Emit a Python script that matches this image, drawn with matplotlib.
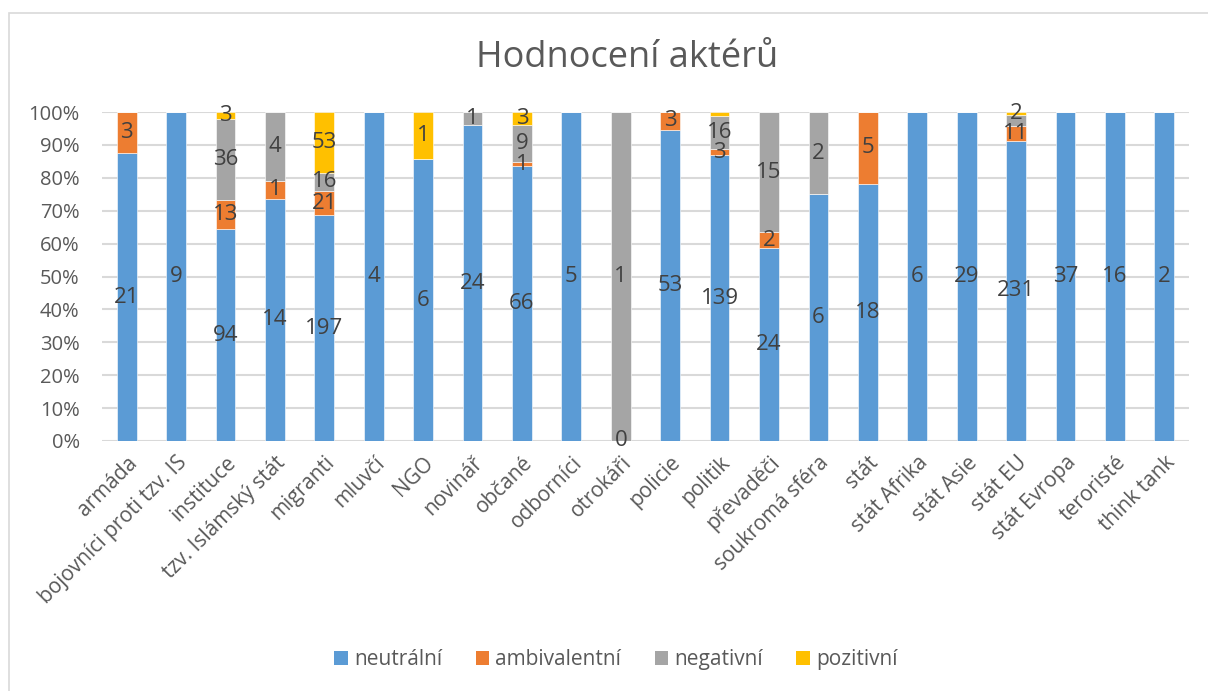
import numpy as np
import matplotlib
matplotlib.use("Agg")
import matplotlib.pyplot as plt
from matplotlib.patches import Rectangle, Patch
from matplotlib.ticker import PercentFormatter

plt.rcParams["font.family"] = ["Open Sans", "DejaVu Sans"]

# ----- data -----
categories = [
    "armáda", "bojovníci proti tzv. IS", "instituce", "tzv. Islámský stát",
    "migranti", "mluvčí", "NGO", "novinář", "občané", "odborníci", "otrokáři",
    "policie", "politik", "převaděči", "soukromá sféra", "stát", "stát Afrika",
    "stát Asie", "stát EU", "stát Evropa", "teroristé", "think tank",
]
nan = np.nan
neutralni = [21, 9, 94, 14, 197, 4, 6, 24, 66, 5, 0, 53, 139, 24, 6, 18, 6, 29, 231, 37, 16, 2]
ambivalentni = [3, nan, 13, 1, 21, nan, nan, nan, 1, nan, nan, 3, 3, 2, nan, 5, nan, nan, 11, nan, nan, nan]
negativni = [nan, nan, 36, 4, 16, nan, nan, 1, 9, nan, 1, nan, 16, 15, 2, nan, nan, nan, 9, nan, nan, nan]
pozitivni = [nan, nan, 3, nan, 53, nan, 1, nan, 3, nan, nan, nan, 2, nan, nan, nan, nan, nan, 2, nan, nan, nan]

series_names = ["neutrální", "ambivalentní", "negativní", "pozitivní"]
series = [neutralni, ambivalentni, negativni, pozitivni]
colors = ["#5B9BD5", "#ED7D31", "#A5A5A5", "#FFC000"]

# labels that Excel hid because they overlap (series index, category)
hidden_labels = {(3, "politik"), (2, "stát EU")}

# ----- figure -----
fig = plt.figure(figsize=(12.08, 6.91), dpi=100)
ax = fig.add_axes([0.0844, 0.3618, 0.8999, 0.4761])

# chart border (Excel chart area)
fig.patches.append(Rectangle((0.0075, -0.1), 1.1, 1.081, transform=fig.transFigure,
                             fill=False, edgecolor="#D9D9D9", linewidth=1.2, zorder=0))

vals = np.nan_to_num(np.array(series, dtype=float))
totals = vals.sum(axis=0)
pct = vals / totals * 100
x = np.arange(len(categories))

bottom = np.zeros(len(categories))
for si, (name, col) in enumerate(zip(series_names, colors)):
    ax.bar(x, pct[si], 0.4, bottom=bottom, color=col, edgecolor="white",
           linewidth=0.4, zorder=3, label=name)
    for ci, cat in enumerate(categories):
        raw = series[si][ci]
        if np.isnan(raw) or (si, cat) in hidden_labels:
            continue
        yc = bottom[ci] + pct[si][ci] / 2
        ax.text(ci, yc, f"{int(raw)}", ha="center", va="center",
                fontsize=16, color="#404040", zorder=5)
    bottom += pct[si]

ax.set_xlim(-0.5, len(categories) - 0.5)
ax.set_ylim(0, 100)
ax.set_yticks(np.arange(0, 101, 10))
ax.yaxis.set_major_formatter(PercentFormatter(decimals=0))
ax.grid(axis="y", color="#D9D9D9", linewidth=1.5, zorder=0)
ax.set_axisbelow(True)
for s in ["top", "right", "left", "bottom"]:
    ax.spines[s].set_visible(False)
ax.tick_params(axis="y", length=0, pad=16, labelsize=14.5, labelcolor="#595959")
ax.tick_params(axis="x", length=0, pad=8, labelsize=15, labelcolor="#595959")
ax.set_xticks(x)
ax.set_xticklabels(categories, rotation=45, ha="right", rotation_mode="anchor")

fig.text(0.519, 0.916, "Hodnocení aktérů", ha="center", va="center",
         fontsize=26, color="#595959")

handles = [Patch(facecolor=c, label=n) for n, c in zip(series_names, colors)]
fig.legend(handles=handles, loc="center", bbox_to_anchor=(0.51, 0.045), ncol=4,
           frameon=False, fontsize=15, labelcolor="#595959", handlelength=0.65,
           handleheight=0.65, handletextpad=0.3, columnspacing=1.6)

fig.savefig("out.png", dpi=100)
